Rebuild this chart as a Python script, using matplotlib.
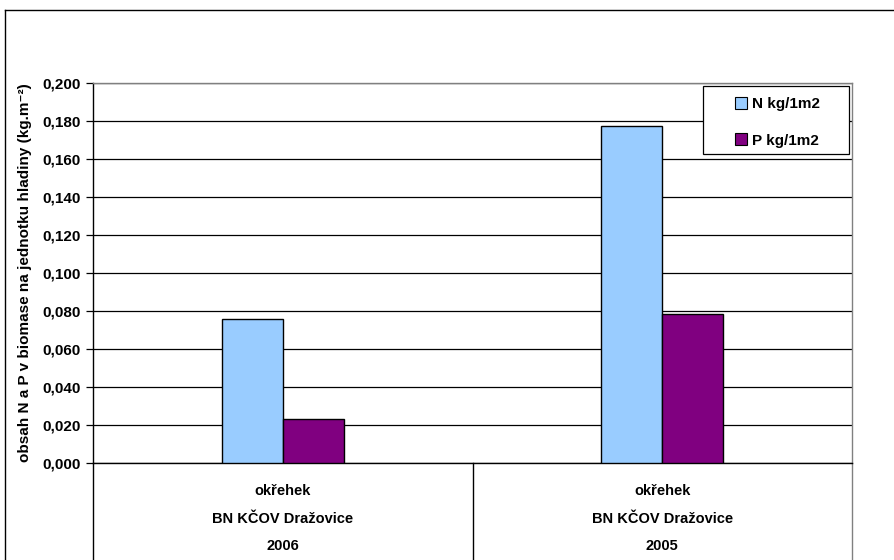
import numpy as np
import matplotlib.pyplot as plt
from matplotlib.lines import Line2D
from matplotlib.patches import Patch, Rectangle
from matplotlib.ticker import FuncFormatter
from matplotlib.transforms import blended_transform_factory

plt.rcParams['font.family'] = ['Liberation Sans', 'DejaVu Sans']
plt.rcParams['font.weight'] = 'bold'

# hodnoty obsahu N a P (kg/m2)
roky = ['2006', '2005']
rostlina = ['okřehek', 'okřehek']
lokalita = ['BN KČOV Dražovice', 'BN KČOV Dražovice']
N_vals = [0.0758, 0.1773]
P_vals = [0.0230, 0.0782]
serie = ['N kg/1m2', 'P kg/1m2']
barvy = ['#99CCFF', '#800080']

W, H = 894, 560
fig = plt.figure(figsize=(W / 100, H / 100), dpi=100)
ax = fig.add_axes([93 / W, (H - 463) / H, (852 - 93) / W, (463 - 83) / H])

x = np.arange(len(roky))
sirka = 0.161
ax.bar(x - sirka / 2, N_vals, sirka, color=barvy[0], edgecolor='black', linewidth=1.0, zorder=3)
ax.bar(x + sirka / 2, P_vals, sirka, color=barvy[1], edgecolor='black', linewidth=1.0, zorder=3)

ax.set_xlim(-0.5, 1.5)
ax.set_ylim(0, 0.2)
ax.set_yticks(np.arange(0, 0.2001, 0.02))
ax.yaxis.set_major_formatter(FuncFormatter(lambda v, p: f'{v:.3f}'.replace('.', ',')))
ax.yaxis.grid(True, color='black', linewidth=0.9, zorder=1)
ax.set_axisbelow(True)
ax.tick_params(axis='y', direction='out', length=5, width=0.9, labelsize=11, pad=4)
ax.set_xticks([])
for lab in ax.get_yticklabels():
    lab.set_fontweight('bold')

ax.spines['left'].set_color('black')
ax.spines['bottom'].set_color('black')
ax.spines['top'].set_color('#808080')
ax.spines['right'].set_color('#808080')
for s in ax.spines.values():
    s.set_linewidth(1.0)

ax.set_ylabel('obsah N a P v biomase na jednotku hladiny (kg.m⁻²)',
              fontsize=11, fontweight='bold', labelpad=7)

# kategorie pod osou x
tr = blended_transform_factory(ax.transData, fig.transFigure)
for i in range(len(roky)):
    ax.text(x[i], 1 - 491 / H, rostlina[i], transform=tr, ha='center', va='center', fontsize=10.5, fontweight='bold')
    ax.text(x[i], 1 - 519 / H, lokalita[i], transform=tr, ha='center', va='center', fontsize=10.5, fontweight='bold')
    ax.text(x[i], 1 - 546 / H, roky[i], transform=tr, ha='center', va='center', fontsize=10.5, fontweight='bold')

for xf, c in [(0.0, 'black'), (0.5, 'black'), (1.0, '#808080')]:
    ax.add_line(Line2D([xf, xf], [0, -0.3], transform=ax.transAxes, color=c, linewidth=1.0, clip_on=False))

# ramecek grafu
fig.add_artist(Line2D([5 / W, 5 / W], [0, 1 - 10 / H], transform=fig.transFigure, color='black', linewidth=1.0))
fig.add_artist(Line2D([5 / W, 1], [1 - 10 / H, 1 - 10 / H], transform=fig.transFigure, color='black', linewidth=1.0))

# legenda s vlastnim ramem
ax.add_patch(Rectangle((703 / W, 1 - 154 / H), (849 - 703) / W, (154 - 86) / H,
                       transform=fig.transFigure, facecolor='white', edgecolor='black',
                       linewidth=0.9, zorder=5, clip_on=False))
handles = [Patch(facecolor=barvy[0], edgecolor='black', linewidth=0.8),
           Patch(facecolor=barvy[1], edgecolor='black', linewidth=0.8)]
leg = ax.legend(handles, serie, loc='upper left', bbox_to_anchor=(729 / W, 1 - 91 / H),
                bbox_transform=fig.transFigure, frameon=False,
                prop={'weight': 'bold', 'size': 11}, handlelength=0.8, handleheight=0.8,
                handletextpad=0.3, labelspacing=1.45, borderpad=0.4, borderaxespad=0)
leg.set_zorder(6)

fig.savefig('out.png', dpi=100)
